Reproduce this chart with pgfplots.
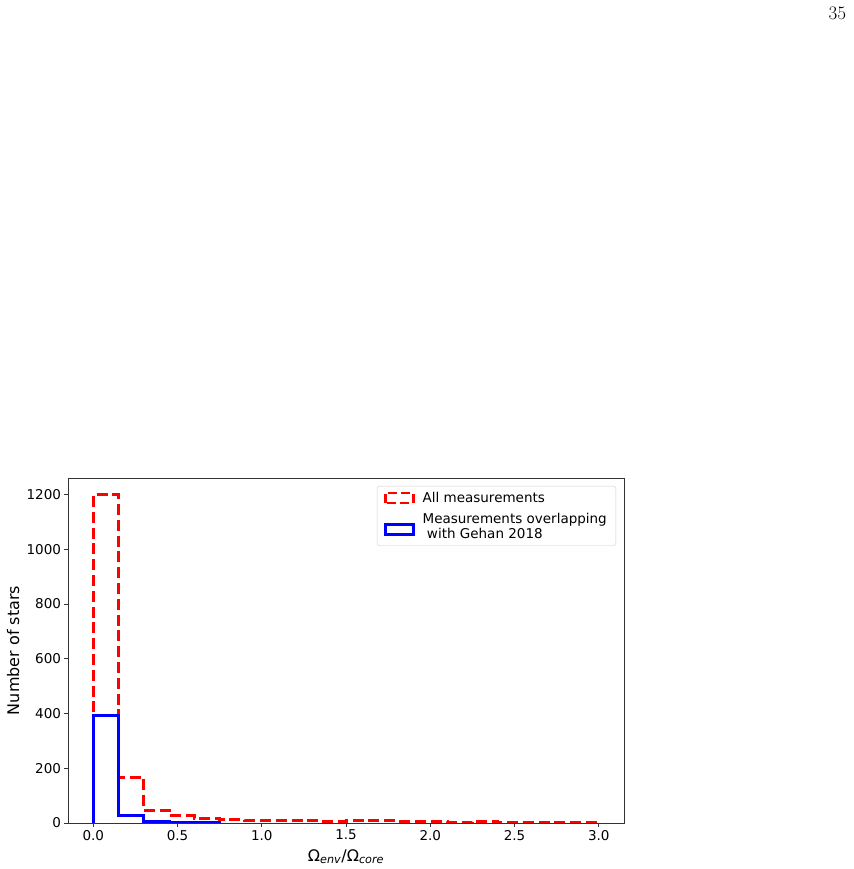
\documentclass[border=0pt]{standalone}
\usepackage{fontspec}
\setsansfont{DejaVu Sans}
\usepackage{pgfplots}
\pgfplotsset{compat=1.18}

\begin{document}
\begin{tikzpicture}
\useasboundingbox (0,0) rectangle (853pt,869pt);
% page number of the source document
\node[anchor=base east, font=\fontsize{19}{22}\selectfont, inner sep=0pt] at (846.3pt,849pt) {35};
\begin{axis}[
    at={(68pt,46pt)}, anchor=south west,
    scale only axis, width=556pt, height=345pt,
    xmin=-0.15, xmax=3.15, ymin=0, ymax=1260,
    axis on top,
    axis line style={line width=0.8pt, black!80},
    every tick/.style={line width=0.8pt, black!80},
    tick align=outside, major tick length=3.5pt,
    xtick pos=left, ytick pos=left,
    xtick={0,0.5,1,1.5,2,2.5,3}, ytick={0,200,400,600,800,1000,1200},
    ticklabel style={font=\sffamily\fontsize{13.5}{16}\selectfont},
    /pgf/number format/assume math mode=true,
    xticklabel style={/pgf/number format/.cd, fixed, fixed zerofill, precision=1},
    yticklabel style={/pgf/number format/.cd, 1000 sep={}},
    label style={font=\sffamily\fontsize{16}{19}\selectfont},
    xlabel={Ω\textsubscript{\textit{env}}/Ω\textsubscript{\textit{core}}},
    xlabel style={at={(axis description cs:0.5,0)}, anchor=base, yshift=-38pt},
    ylabel={Number of stars},
    ylabel style={at={(axis description cs:-0.0881,0.5)}, anchor=base},
    legend style={at={(1,1)}, anchor=north east, xshift=-8pt, yshift=-8pt,
        draw=black!20, rounded corners=2.5pt, fill=white,
        font=\sffamily\fontsize{13.5}{15}\selectfont,
        inner xsep=7pt, inner ysep=4pt, row sep=5pt, column sep=6pt,
        cells={anchor=west, align=left}},
    legend cell align=left,
]
\addplot[red, line width=3pt, line join=miter, dash pattern=on 11pt off 4.8pt, const plot,
    legend image code/.code={\draw[red, sharp corners, line width=2.5pt, line join=miter, dash pattern=on 9pt off 4pt] (0pt,-5pt) rectangle (28pt,5pt);}]
coordinates {
    (0,0) (0,1200) (0.15,168) (0.30,46) (0.45,27) (0.60,17) (0.75,12)
    (0.90,8) (1.05,8) (1.20,8) (1.35,4) (1.50,8) (1.65,8) (1.80,6)
    (1.95,6) (2.10,3) (2.25,7) (2.40,3) (2.55,3) (2.70,3) (2.85,3)
    (3.00,3) (3.00,0)
};
\addlegendentry{All measurements}
\addplot[blue, line width=3pt, line join=miter, const plot,
    legend image code/.code={\draw[blue, sharp corners, line width=2.5pt, line join=miter] (0pt,-8pt) rectangle (28pt,2pt);}]
coordinates {
    (0,0) (0,393) (0.15,26) (0.30,6) (0.45,2) (0.60,1) (0.75,1) (0.75,0)
};
\addlegendentry{Measurements overlapping\\\hspace*{0.32em}with Gehan 2018}
\end{axis}
\end{tikzpicture}
\end{document}
